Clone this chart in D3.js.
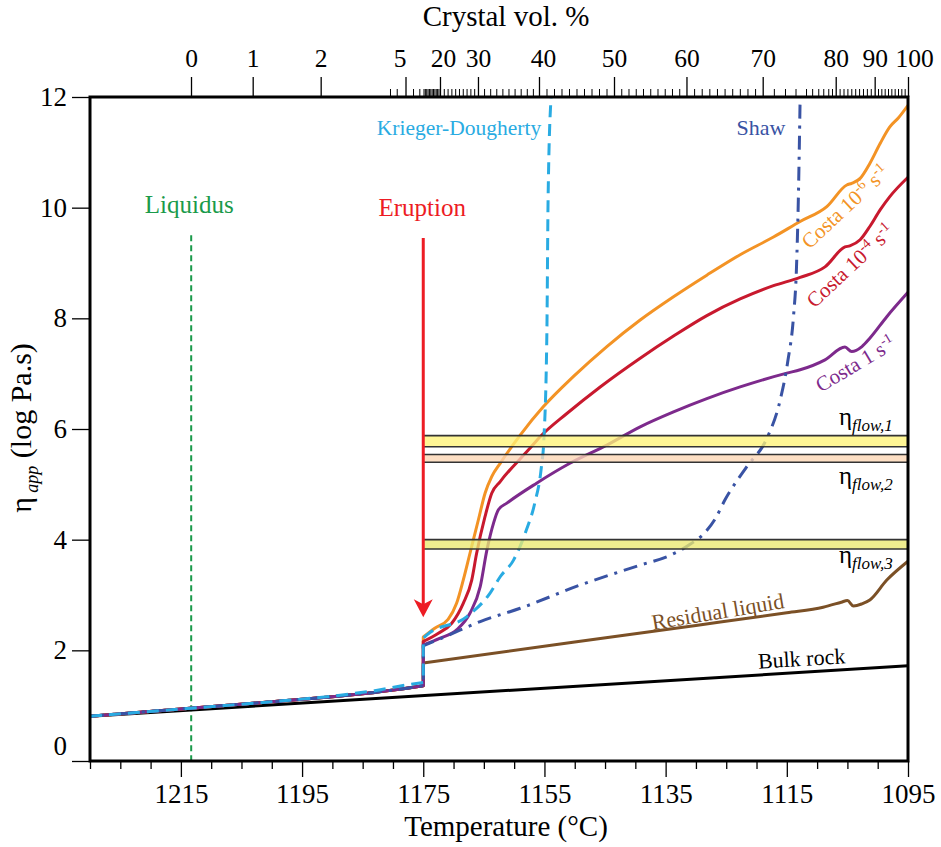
<!DOCTYPE html>
<html>
<head>
<meta charset="utf-8">
<script src="https://cdn.jsdelivr.net/npm/d3@7"></script>
<style>
  body { margin: 0; background: #fff; }
  svg text { font-family: "Liberation Serif", "Times New Roman", serif; }
</style>
</head>
<body>
<svg id="chart" width="941" height="847"></svg>
<script>
// ---- axis ticks ----
const tempTicks = [1215, 1195, 1175, 1155, 1135, 1115, 1095];
const viscTicks = [0, 2, 4, 6, 8, 10, 12];
const crystalLabelTicks = [0, 1, 2, 5, 20, 30, 40, 50, 60, 70, 80, 90, 100];

// crystal content (vol. %) reached at a given temperature (°C)
const crystalCalibPct  = [0, 1, 2, 3, 4, 5, 6, 7, 8, 19, 20, 30, 40, 50, 60, 70, 72, 74, 76, 78, 80, 90, 100];
const crystalCalibTemp = [1213.33, 1203.15, 1191.93, 1180.49, 1179.38, 1177.93, 1176.69, 1175.65, 1174.96,
                          1172.49, 1172.24, 1165.97, 1155.90, 1143.52, 1131.56, 1118.98, 1115.30, 1111.83,
                          1109.81, 1108.16, 1106.93, 1100.50, 1095.0];

// ---- events ----
const liquidusT = 1213.3;
const eruptionT = 1175;

// ---- viscosity series: [temperature °C, log10 viscosity Pa.s] ----
const bulkRock = [[1230, 0.81], [1095, 1.72]];

// melt viscosity up to the eruption (shared by all curves)
const meltBeforeEruption = [[1230, 0.81], [1215, 0.94], [1200, 1.07], [1190, 1.16], [1183, 1.24], [1178, 1.31], [1175, 1.36]];
const kdBeforeEruption   = [[1230, 0.81], [1215, 0.94], [1200, 1.07], [1190, 1.17], [1183, 1.27], [1178, 1.37], [1175, 1.42]];

// after the eruption
const residualLiquid = [[1175, 1.77], [1150, 2.15], [1130, 2.45], [1115, 2.68], [1109, 2.78], [1106, 2.87],
                        [1105, 2.90], [1104, 2.80], [1102.6, 2.84], [1101.3, 2.91], [1098.5, 3.27], [1095, 3.61]];

const costa1e6 = [[1175, 2.24], [1173.1, 2.40], [1170.9, 2.56], [1169.5, 2.85], [1168.4, 3.27], [1167.3, 3.75],
                  [1165.9, 4.36], [1164.8, 4.84], [1163.7, 5.14], [1162.3, 5.38], [1159.0, 5.89], [1155.2, 6.40],
                  [1150.2, 6.95], [1144.7, 7.49], [1139.2, 7.97], [1133.7, 8.39], [1128.2, 8.78], [1122.7, 9.15],
                  [1117.2, 9.47], [1112.8, 9.75], [1108.4, 10.02], [1105.1, 10.41], [1104.3, 10.44], [1102.9, 10.53],
                  [1101.3, 10.80], [1099.6, 11.16], [1098.0, 11.46], [1096.6, 11.62], [1095, 11.85]];

const costa1e4 = [[1175, 2.16], [1172.5, 2.31], [1170.3, 2.49], [1168.4, 2.85], [1167.0, 3.27], [1166.2, 3.75],
                  [1164.8, 4.42], [1163.7, 4.84], [1162.3, 5.05], [1157.4, 5.65], [1155.7, 5.86], [1151.3, 6.28],
                  [1145.8, 6.76], [1139.2, 7.28], [1133.7, 7.68], [1128.2, 8.05], [1122.7, 8.35], [1117.2, 8.59],
                  [1112.8, 8.74], [1108.7, 8.93], [1105.4, 9.29], [1104.6, 9.31], [1102.9, 9.42], [1101.3, 9.66],
                  [1099.6, 9.96], [1098.0, 10.20], [1095, 10.55]];

const costa1 = [[1175, 2.10], [1172.2, 2.22], [1169.5, 2.37], [1167.3, 2.67], [1165.6, 3.15], [1164.5, 3.81],
                [1163.4, 4.30], [1162.6, 4.54], [1161.2, 4.66], [1156.3, 5.02], [1150.8, 5.38], [1144.7, 5.71],
                [1139.2, 6.04], [1133.7, 6.31], [1128.2, 6.55], [1122.7, 6.76], [1115.0, 7.01], [1112.8, 7.07],
                [1108.7, 7.25], [1105.4, 7.48], [1104.3, 7.40], [1102.6, 7.49], [1101.3, 7.64], [1098.5, 8.03],
                [1095, 8.47]];

const kriegerDougherty = [[1175, 2.22], [1174.4, 2.28], [1167.8, 2.61], [1164.0, 3.03], [1162.3, 3.33], [1160.1, 3.63],
                          [1158.0, 4.17], [1156.6, 4.66], [1155.5, 5.32], [1155.1, 5.80], [1154.6, 7.73],
                          [1154.4, 10.14], [1153.9, 12.0]];

const shaw = [[1175, 2.08], [1171.1, 2.26], [1165.6, 2.52], [1159.0, 2.76], [1149.1, 3.18], [1139.2, 3.54],
              [1134.2, 3.72], [1130.9, 3.92], [1128.5, 4.13], [1126.8, 4.38], [1125.2, 4.72], [1121.6, 5.32],
              [1118.3, 5.83], [1116.1, 6.52], [1114.8, 7.25], [1113.9, 8.03], [1113.4, 8.93], [1113.1, 10.14],
              [1112.8, 12.0]];

// flow viscosity ranges (log Pa.s)
const bandNames = ["flow,1", "flow,2", "flow,3"];
const bandLow   = [5.68, 5.40, 3.83];
const bandHigh  = [5.88, 5.54, 4.00];

// ---- layout ----
const svg = d3.select("#chart");
const plotL = 90, plotR = 908, plotT = 97, plotB = 761;
const x = d3.scaleLinear().domain([1230, 1095]).range([plotL, plotR]);
const y = d3.scaleLinear().domain([0, 12]).range([plotB, plotT]);
const crystalX = d3.scaleLinear().domain(crystalCalibPct).range(crystalCalibTemp.map(t => x(t)));

svg.append("defs").append("clipPath").attr("id", "plotClip")
  .append("rect").attr("x", plotL).attr("y", plotT).attr("width", plotR - plotL).attr("height", plotB - plotT);

const plot = svg.append("g").attr("clip-path", "url(#plotClip)");
const lineStraight = d3.line().x(d => x(d[0])).y(d => y(d[1]));
const lineSmooth = d3.line().x(d => x(d[0])).y(d => y(d[1])).curve(d3.curveMonotoneX);
// pre-eruption part, vertical step at the eruption, smooth post-eruption part
const stepPath = (pre, post) => lineStraight(pre) + lineSmooth(post).replace(/^M/, "L");

// liquidus
plot.append("line")
  .attr("x1", x(liquidusT)).attr("x2", x(liquidusT))
  .attr("y1", y(9.5)).attr("y2", plotB)
  .attr("stroke", "#1a9a4a").attr("stroke-width", 2).attr("stroke-dasharray", "6,4");

// bulk rock
plot.append("path").attr("d", lineStraight(bulkRock))
  .attr("fill", "none").attr("stroke", "#000").attr("stroke-width", 3);

// apparent viscosity curves
const curves = [
  { pre: meltBeforeEruption, post: costa1e6, color: "#f39325", dash: null },
  { pre: meltBeforeEruption, post: costa1e4, color: "#c8192e", dash: null },
  { pre: meltBeforeEruption, post: residualLiquid, color: "#7b5026", dash: null },
  { pre: meltBeforeEruption, post: costa1, color: "#7d2a8c", dash: null },
  { pre: meltBeforeEruption, post: shaw, color: "#3953a4", dash: "14,7,3,7" },
  { pre: kdBeforeEruption, post: kriegerDougherty, color: "#29abe2", dash: "12,7" }
];
curves.forEach(c => {
  plot.append("path").attr("d", stepPath(c.pre, c.post))
    .attr("fill", "none").attr("stroke", c.color).attr("stroke-width", 3)
    .attr("stroke-linejoin", "round")
    .attr("stroke-dasharray", c.dash);
});

// flow viscosity bands
const bandFill = ["#fff377", "#fcd6b4", "#ebe870"];
bandNames.forEach((n, i) => {
  const g = plot.append("g");
  g.append("rect")
    .attr("x", x(eruptionT)).attr("width", plotR - x(eruptionT))
    .attr("y", y(bandHigh[i])).attr("height", y(bandLow[i]) - y(bandHigh[i]))
    .attr("fill", bandFill[i]).attr("fill-opacity", 0.78);
  [bandLow[i], bandHigh[i]].forEach(v => {
    g.append("line").attr("x1", x(eruptionT)).attr("x2", plotR)
      .attr("y1", y(v)).attr("y2", y(v))
      .attr("stroke", "#333").attr("stroke-width", 1.6);
  });
});

// eruption arrow
const ax = x(eruptionT);
plot.append("line").attr("x1", ax).attr("x2", ax)
  .attr("y1", y(9.45)).attr("y2", y(2.6) - 10)
  .attr("stroke", "#ed1c24").attr("stroke-width", 3);
const tipY = y(2.6);
plot.append("path")
  .attr("d", `M${ax},${tipY} L${ax - 9.5},${tipY - 18} L${ax},${tipY - 13} L${ax + 9.5},${tipY - 18} Z`)
  .attr("fill", "#ed1c24");

// frame
svg.append("rect").attr("x", plotL).attr("y", plotT).attr("width", plotR - plotL).attr("height", plotB - plotT)
  .attr("fill", "none").attr("stroke", "#000").attr("stroke-width", 3);

// ---- axes ----
function styleAxis(g, size) {
  g.select(".domain").remove();
  g.selectAll(".tick line").attr("stroke", "#000").attr("stroke-width", 1.3);
  g.selectAll(".tick text").attr("fill", "#000").style("font-size", (size || 27) + "px")
    .style("font-family", '"Liberation Serif", "Times New Roman", serif');
}

// bottom: temperature
const minorTemps = d3.range(1230, 1094, -5).filter(t => !tempTicks.includes(t));
svg.append("g").attr("transform", `translate(0,${plotB})`)
  .call(d3.axisBottom(x).tickValues(minorTemps).tickSize(8).tickFormat(""))
  .call(styleAxis);
svg.append("g").attr("transform", `translate(0,${plotB})`)
  .call(d3.axisBottom(x).tickValues(tempTicks).tickSize(16).tickPadding(7).tickFormat(d3.format("d")))
  .call(styleAxis);

// left: viscosity
svg.append("g").attr("transform", `translate(${plotL},0)`)
  .call(d3.axisLeft(y).tickValues(viscTicks).tickSize(18).tickPadding(5))
  .call(styleAxis)
  .call(g => g.selectAll(".tick text").filter(d => d === 0).attr("y", -15));

// top: crystal content
const crystalMinor = d3.range(3, 100).filter(p => !crystalLabelTicks.includes(p));
svg.append("g").attr("transform", `translate(0,${plotT})`)
  .call(d3.axisTop(crystalX).tickValues(crystalMinor).tickSize(8).tickFormat(""))
  .call(styleAxis)
  .call(g => g.selectAll(".tick line").attr("stroke-width", 1));
svg.append("g").attr("transform", `translate(0,${plotT})`)
  .call(d3.axisTop(crystalX).tickValues(crystalLabelTicks).tickSize(20).tickPadding(10).tickFormat(d3.format("d")))
  .call(g => styleAxis(g, 25.5))
  .call(g => {
    g.selectAll(".tick text").filter(d => d === 5).attr("x", -6);
    g.selectAll(".tick text").filter(d => d === 20).attr("x", 3);
    g.selectAll(".tick text").filter(d => d === 40).attr("x", 4);
    g.selectAll(".tick text").filter(d => d === 100).attr("x", 6);
  });

// axis titles
svg.append("text").attr("x", 506).attr("y", 836).attr("text-anchor", "middle")
  .style("font-size", "29px").text("Temperature (°C)");
svg.append("text").attr("x", 506).attr("y", 26).attr("text-anchor", "middle")
  .style("font-size", "29px").text("Crystal vol. %");
const yt = svg.append("text").attr("transform", "translate(31,428) rotate(-90)")
  .attr("text-anchor", "middle").style("font-size", "30px");
yt.append("tspan").text("η");
yt.append("tspan").attr("dy", 7).style("font-size", "18px").style("font-style", "italic").text(" app");
yt.append("tspan").attr("dy", -7).text(" (log Pa.s)");

// ---- annotations ----
function label(txt, px, py, color, size, rot) {
  return svg.append("text")
    .attr("transform", `translate(${px},${py}) rotate(${rot || 0})`)
    .attr("text-anchor", "middle").attr("fill", color)
    .style("font-size", size + "px").text(txt);
}
label("Liquidus", x(liquidusT) - 2, 213, "#1a9a4a", 25);
label("Eruption", x(eruptionT) - 1, 216, "#ed1c24", 25);
label("Krieger-Dougherty", 459, 135, "#29abe2", 21.5);
label("Shaw", 761, 135, "#3953a4", 22);
label("Residual liquid", 719, 619, "#7b5026", 22, -9.5);
label("Bulk rock", 802, 666, "#000", 22, -3.5);

function costaLabel(base, exp, px, py, color, rot) {
  const t = svg.append("text")
    .attr("transform", `translate(${px},${py}) rotate(${rot})`)
    .attr("text-anchor", "middle").attr("fill", color).style("font-size", "21px");
  t.append("tspan").text(base);
  if (exp) {
    t.append("tspan").attr("dy", -8).style("font-size", "14px").text(exp);
    t.append("tspan").attr("dy", 8).text(" s");
  } else {
    t.append("tspan").text(" s");
  }
  t.append("tspan").attr("dy", -8).style("font-size", "14px").text("-1");
}
costaLabel("Costa 10", "-6", 850, 212, "#f39325", -43);
costaLabel("Costa 10", "-4", 855, 271, "#c8192e", -43);
costaLabel("Costa 1", null, 859, 370, "#7d2a8c", -31);

// flow viscosity labels
const bandLabelY = [425, 484, 563];
bandNames.forEach((n, i) => {
  const t = svg.append("text").attr("x", 839).attr("y", bandLabelY[i]).attr("fill", "#000")
    .style("font-size", "25px");
  t.append("tspan").text("η");
  t.append("tspan").attr("dy", 6).style("font-size", "17px").style("font-style", "italic").text(n);
});
</script>
</body>
</html>
